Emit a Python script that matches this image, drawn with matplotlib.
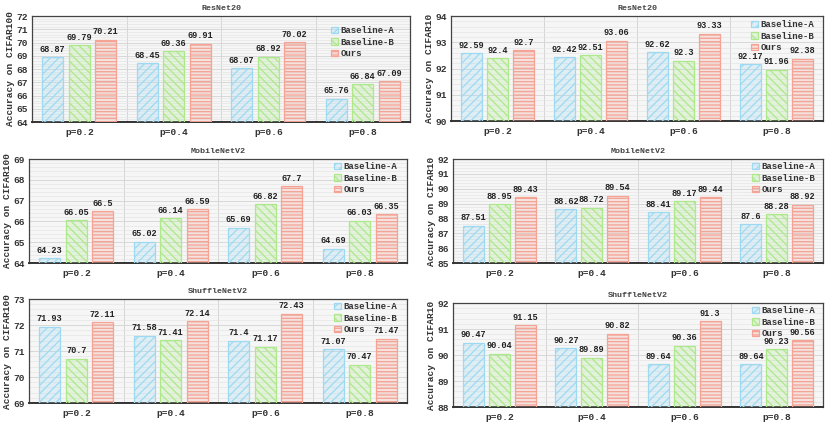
import matplotlib
matplotlib.use("Agg")
import matplotlib.pyplot as plt
from matplotlib.colors import to_rgba
from matplotlib.ticker import MultipleLocator, AutoMinorLocator

plt.rcParams['font.family'] = ['Liberation Mono', 'DejaVu Sans Mono']
plt.rcParams['font.weight'] = 'bold'
plt.rcParams['hatch.linewidth'] = 0.9

groups = ["p=0.2", "p=0.4", "p=0.6", "p=0.8"]
series_names = ["Baseline-A", "Baseline-B", "Ours"]

# CIFAR100 (left column)
c100_resnet20_A = [68.87, 68.45, 68.07, 65.76]
c100_resnet20_B = [69.79, 69.36, 68.92, 66.84]
c100_resnet20_O = [70.21, 69.91, 70.02, 67.09]
c100_mobilenet_A = [64.23, 65.02, 65.69, 64.69]
c100_mobilenet_B = [66.05, 66.14, 66.82, 66.03]
c100_mobilenet_O = [66.5, 66.59, 67.7, 66.35]
c100_shuffle_A = [71.93, 71.58, 71.4, 71.07]
c100_shuffle_B = [70.7, 71.41, 71.17, 70.47]
c100_shuffle_O = [72.11, 72.14, 72.43, 71.47]

# CIFAR10 (right column)
c10_resnet20_A = [92.59, 92.42, 92.62, 92.17]
c10_resnet20_B = [92.4, 92.51, 92.3, 91.96]
c10_resnet20_O = [92.7, 93.06, 93.33, 92.38]
c10_mobilenet_A = [87.51, 88.62, 88.41, 87.6]
c10_mobilenet_B = [88.95, 88.72, 89.17, 88.28]
c10_mobilenet_O = [89.43, 89.54, 89.44, 88.92]
c10_shuffle_A = [90.47, 90.27, 89.64, 89.64]
c10_shuffle_B = [90.04, 89.89, 90.36, 90.23]
c10_shuffle_O = [91.15, 90.82, 91.3, 90.56]

panels = [
    # title, ylabel, ylim, data, pixel box (x0, x1, ytop, ybottom), legend offset px (right, top)
    ("ResNet20", "Accuracy on CIFAR100", (64, 72),
     [c100_resnet20_A, c100_resnet20_B, c100_resnet20_O], (32, 410, 16, 122), (16, 10)),
    ("ResNet20", "Accuracy on CIFAR10", (90, 94),
     [c10_resnet20_A, c10_resnet20_B, c10_resnet20_O], (451, 823, 16, 121), (9, 4)),
    ("MobileNetV2", "Accuracy on CIFAR100", (64, 69),
     [c100_mobilenet_A, c100_mobilenet_B, c100_mobilenet_O], (29, 407, 159, 263), (10, 3)),
    ("MobileNetV2", "Accuracy on CIFAR10", (85, 92),
     [c10_mobilenet_A, c10_mobilenet_B, c10_mobilenet_O], (453, 823, 159, 263), (8, 3)),
    ("ShuffleNetV2", "Accuracy on CIFAR100", (69, 73),
     [c100_shuffle_A, c100_shuffle_B, c100_shuffle_O], (29, 407, 299, 403), (10, 3)),
    ("ShuffleNetV2", "Accuracy on CIFAR10", (88, 92),
     [c10_shuffle_A, c10_shuffle_B, c10_shuffle_O], (453, 823, 303, 407), (8, 3)),
]

colors = ["#9ddaf2", "#ade98a", "#f4a394"]
hatches = ["////", "\\\\\\\\", "-----"]

W, H = 830, 423
fig = plt.figure(figsize=(W / 100, H / 100), dpi=100)

width = 0.225
offsets = [-0.28, 0.0, 0.28]

for title, ylabel, ylim, data, box, legoff in panels:
    x0, x1, yt, yb = box
    aw, ah = x1 - x0, yb - yt
    ax = fig.add_axes([x0 / W, 1 - yb / H, aw / W, ah / H])
    ax.set_facecolor("#f6f6f6")
    xs = list(range(len(groups)))
    for s, (vals, c, h, name) in enumerate(zip(data, colors, hatches, series_names)):
        pos = [x + offsets[s] for x in xs]
        bars = ax.bar(pos, vals, width, bottom=0, facecolor=to_rgba(c, 0.25),
                      edgecolor=c, hatch=h, linewidth=0.9, label=name, zorder=3)
        for b, v in zip(bars, vals):
            ax.annotate(f"{v:g}", (b.get_x() + b.get_width() / 2, v),
                        xytext=(0, 2.5), textcoords="offset points",
                        ha="center", va="bottom", fontsize=6.2,
                        fontweight="bold", color="#222222", zorder=5)
    ax.set_xlim(-0.5, 3.5)
    ax.set_ylim(*ylim)
    ax.set_xticks(xs)
    ax.set_xticklabels(groups, fontsize=6.8)
    ax.yaxis.set_major_locator(MultipleLocator(1))
    ax.yaxis.set_minor_locator(AutoMinorLocator(5))
    ax.tick_params(axis="both", length=0, colors="#333333", labelsize=6.8)
    ax.tick_params(axis="x", pad=4)
    ax.tick_params(axis="y", pad=3)
    ax.tick_params(which="minor", length=0)
    ax.grid(axis="y", which="major", color="#d8d8d8", linewidth=0.7, zorder=0)
    ax.grid(axis="y", which="minor", color="#e6e6e6", linewidth=0.5, zorder=0)
    for xv in [0.5, 1.5, 2.5]:
        ax.axvline(xv, color="#d4d4d4", linewidth=0.7, zorder=0)
    ax.set_axisbelow(True)
    for sp in ["left", "top", "right"]:
        ax.spines[sp].set_color("#444444")
        ax.spines[sp].set_linewidth(0.9)
    ax.spines["bottom"].set_color("#333333")
    ax.spines["bottom"].set_linewidth(1.4)
    ax.set_title(title, fontsize=6, fontweight="bold", color="#444444", pad=4)
    ax.set_ylabel(ylabel, fontsize=6.8, fontweight="bold", color="#333333", labelpad=1)
    leg = ax.legend(loc="upper right",
                    bbox_to_anchor=(1 - legoff[0] / aw, 1 - legoff[1] / ah),
                    frameon=False, fontsize=6.5, handlelength=0.7, handleheight=0.7,
                    handletextpad=0.3, labelspacing=0.3, borderaxespad=0, borderpad=0)
    for t in leg.get_texts():
        t.set_color("#333333")

fig.savefig("out.png", dpi=100)
